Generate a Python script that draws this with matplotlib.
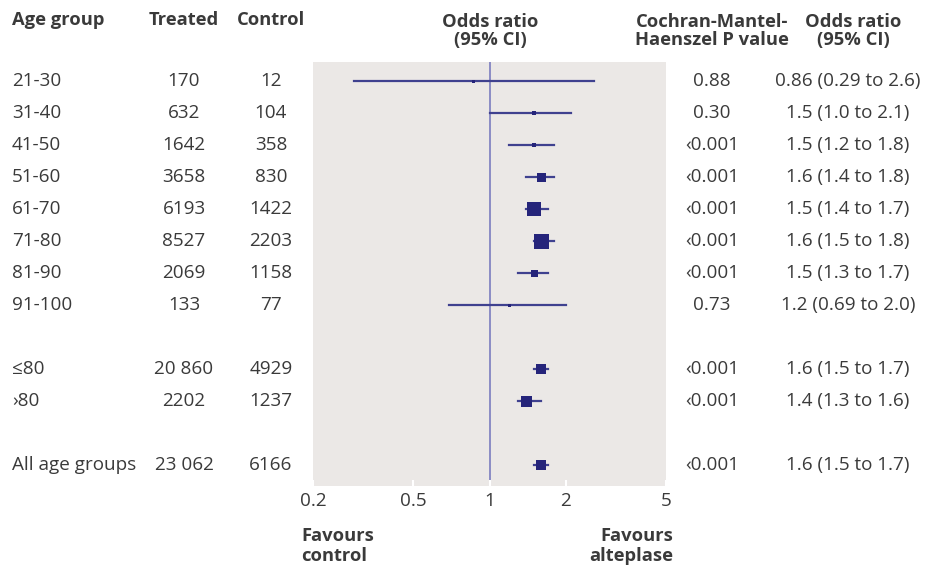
import matplotlib
matplotlib.use("Agg")
import matplotlib.pyplot as plt
from matplotlib.transforms import blended_transform_factory

plt.rcParams["font.family"] = ["Open Sans", "DejaVu Sans"]

# rows of the table, in display order (None = blank spacer row)
groups = ["21-30", "31-40", "41-50", "51-60", "61-70", "71-80", "81-90", "91-100",
          None, "\u226480", "\u203a80", None, "All age groups"]
treated = ["170", "632", "1642", "3658", "6193", "8527", "2069", "133",
           None, "20 860", "2202", None, "23 062"]
control = ["12", "104", "358", "830", "1422", "2203", "1158", "77",
           None, "4929", "1237", None, "6166"]
p_values = ["0.88", "0.30", "\u20390.001", "\u20390.001", "\u20390.001", "\u20390.001",
            "\u20390.001", "0.73", None, "\u20390.001", "\u20390.001", None, "\u20390.001"]
odds = [0.86, 1.5, 1.5, 1.6, 1.5, 1.6, 1.5, 1.2, None, 1.6, 1.4, None, 1.6]
ci_low = [0.29, 1.0, 1.2, 1.4, 1.4, 1.5, 1.3, 0.69, None, 1.5, 1.3, None, 1.5]
ci_high = [2.6, 2.1, 1.8, 1.8, 1.7, 1.8, 1.7, 2.0, None, 1.7, 1.6, None, 1.7]
or_text = ["0.86 (0.29 to 2.6)", "1.5 (1.0 to 2.1)", "1.5 (1.2 to 1.8)", "1.6 (1.4 to 1.8)",
           "1.5 (1.4 to 1.7)", "1.6 (1.5 to 1.8)", "1.5 (1.3 to 1.7)", "1.2 (0.69 to 2.0)",
           None, "1.6 (1.5 to 1.7)", "1.4 (1.3 to 1.6)", None, "1.6 (1.5 to 1.7)"]
x_ticks = [0.2, 0.5, 1, 2, 5]
x_tick_labels = ["0.2", "0.5", "1", "2", "5"]

# box size in pixels (study weight)
box_px = [3, 4, 4, 9, 14, 15, 7, 3, None, 10, 11, None, 10]

W, H = 934, 567
navy = "#25247a"
line_c = "#3f418f"
ref_c = "#8385c2"
bg = "#ebe8e6"
txt = "#3a3a3a"
fs = 13.6
hfs = 13.2

fig = plt.figure(figsize=(W / 100, H / 100), dpi=100)
left, right, top, bottom = 313, 666, 62, 486
ax = fig.add_axes([left / W, 1 - bottom / H, (right - left) / W, (bottom - top) / H])
ax.set_facecolor(bg)
ax.set_xscale("log")
ax.set_xlim(0.2, 5)
row0, step = 81, 32
ax.set_ylim((bottom - row0) / step, (top - row0) / step)
for s in ax.spines.values():
    s.set_visible(False)
ax.set_yticks([])
ax.set_xticks(x_ticks)
ax.set_xticklabels(x_tick_labels)
ax.xaxis.set_minor_locator(plt.NullLocator())
ax.tick_params(axis="x", direction="in", length=4, color="white", width=1.5,
               labelsize=fs, labelcolor=txt, pad=4)

ax.axvline(1, color=ref_c, lw=1.3, zorder=1)

for i, o in enumerate(odds):
    if o is None:
        continue
    ax.plot([ci_low[i], ci_high[i]], [i, i], color=line_c, lw=1.6, zorder=2)
    ax.plot([o], [i], marker="s", color=navy, ms=box_px[i] * 0.72, mew=0, zorder=3)

tr = blended_transform_factory(fig.transFigure, ax.transData)
for i, g in enumerate(groups):
    if g is None:
        continue
    y = i + 0.0
    kw = dict(transform=tr, va="center", fontsize=fs, color=txt)
    fig.text(12 / W, y, g, ha="left", **kw)
    fig.text(184 / W, y, treated[i], ha="center", **kw)
    fig.text(271 / W, y, control[i], ha="center", **kw)
    fig.text(712 / W, y, p_values[i], ha="center", **kw)
    fig.text(848 / W, y, or_text[i], ha="center", **kw)

hk = dict(fontsize=hfs, fontweight="bold", color=txt, va="center", linespacing=1.0)
fig.text(12 / W, 1 - 20 / H, "Age group", ha="left", **hk)
fig.text(184 / W, 1 - 20 / H, "Treated", ha="center", **hk)
fig.text(271 / W, 1 - 20 / H, "Control", ha="center", **hk)
fig.text(490 / W, 1 - 31 / H, "Odds ratio\n(95% CI)", ha="center", multialignment="center", **hk)
fig.text(712 / W, 1 - 31 / H, "Cochran-Mantel-\nHaenszel P value", ha="center", multialignment="center", **hk)
fig.text(853 / W, 1 - 31 / H, "Odds ratio\n(95% CI)", ha="center", multialignment="center", **hk)
fk = dict(hk, linespacing=1.1)
fig.text(301 / W, 1 - 546 / H, "Favours\ncontrol", ha="left", multialignment="left", **fk)
fig.text(673 / W, 1 - 546 / H, "Favours\nalteplase", ha="right", multialignment="right", **fk)

fig.savefig("out.png", dpi=100, facecolor="white")
